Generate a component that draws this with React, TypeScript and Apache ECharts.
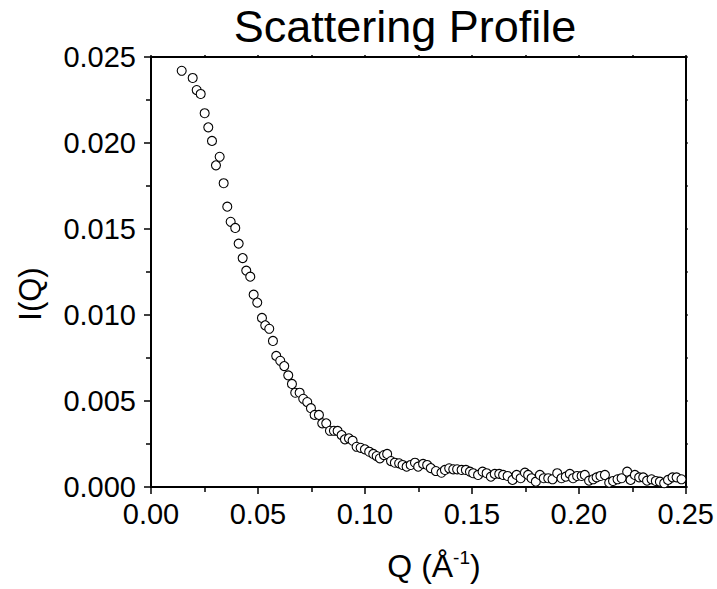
import React, { useEffect, useRef } from "react";
import * as echarts from "echarts";

const qValues = [
  0.01435, 0.01949, 0.02136, 0.02323, 0.02509, 0.02678, 0.02851, 0.03037, 0.0321, 0.03397,
  0.03566, 0.03724, 0.03939, 0.04098, 0.04285, 0.04453, 0.0464, 0.04799, 0.04967, 0.05187,
  0.05341, 0.05528, 0.05701, 0.05855, 0.06042, 0.06229, 0.06416, 0.06589, 0.06743, 0.06949,
  0.07117, 0.07304, 0.07477, 0.0765, 0.07851, 0.08005, 0.08192, 0.08365, 0.08551, 0.08724,
  0.08911, 0.09066, 0.09252, 0.09425, 0.09612, 0.09799, 0.1, 0.102, 0.1039, 0.1055,
  0.107, 0.1089, 0.1104, 0.1122, 0.114, 0.116, 0.1176, 0.1195, 0.1214, 0.1234,
  0.1249, 0.1272, 0.1291, 0.1308, 0.1332, 0.1358, 0.1374, 0.1394, 0.1413, 0.1431,
  0.1452, 0.1472, 0.1491, 0.1506, 0.1529, 0.155, 0.1569, 0.1589, 0.1607, 0.1628,
  0.1646, 0.1667, 0.169, 0.1709, 0.1728, 0.1748, 0.1763, 0.1779, 0.1799, 0.1818,
  0.1836, 0.1857, 0.1877, 0.1899, 0.1919, 0.1939, 0.1958, 0.1973, 0.1992, 0.2013,
  0.2028, 0.2048, 0.2067, 0.2083, 0.2101, 0.2122, 0.2142, 0.216, 0.2181, 0.22,
  0.2226, 0.2242, 0.2262, 0.2282, 0.2301, 0.2319, 0.234, 0.236, 0.2379, 0.2399,
  0.2417, 0.2438, 0.2457, 0.248,
];

const iqValues = [
  0.0242, 0.02378, 0.02308, 0.02285, 0.02173, 0.02091, 0.02012, 0.0187, 0.0192, 0.01766,
  0.0163, 0.01542, 0.01506, 0.01415, 0.01331, 0.01258, 0.01223, 0.01118, 0.01072, 0.00983,
  0.0094, 0.0092, 0.00849, 0.00762, 0.00734, 0.00703, 0.00649, 0.00599, 0.00548, 0.00548,
  0.00513, 0.00494, 0.00458, 0.00419, 0.00419, 0.0037, 0.0037, 0.00327, 0.00327, 0.00326,
  0.00302, 0.00277, 0.00283, 0.00269, 0.00234, 0.00228, 0.00219, 0.00205, 0.00192, 0.0018,
  0.00167, 0.00186, 0.00192, 0.00151, 0.00141, 0.00138, 0.00128, 0.00118, 0.00128, 0.00141,
  0.00118, 0.00134, 0.00128, 0.0011, 0.00093, 0.00083, 0.00099, 0.00109, 0.00103, 0.00103,
  0.00099, 0.00099, 0.00089, 0.0008, 0.0007, 0.00089, 0.0008, 0.0006, 0.00076, 0.00076,
  0.0007, 0.00064, 0.00041, 0.0007, 0.00051, 0.00083, 0.0007, 0.00051, 0.00031, 0.0007,
  0.00051, 0.00051, 0.00045, 0.0008, 0.00051, 0.0006, 0.00076, 0.00051, 0.00064, 0.00064,
  0.0007, 0.00037, 0.00045, 0.00056, 0.00064, 0.0007, 0.00025, 0.00035, 0.00045, 0.00051,
  0.00089, 0.00041, 0.0007, 0.00056, 0.00056, 0.00037, 0.00045, 0.00035, 0.00031, 0.00022,
  0.00041, 0.00056, 0.00056, 0.00045,
];

const xTickLabels = ["0.00", "0.05", "0.10", "0.15", "0.20", "0.25"];
const yTickLabels = ["0.000", "0.005", "0.010", "0.015", "0.020", "0.025"];
const titleText = "Scattering Profile";
const yAxisName = "I(Q)";

export default function App() {
  const ref = useRef<HTMLDivElement>(null);
  useEffect(() => {
    if (!ref.current) return;
    const chart = echarts.init(ref.current, null, { renderer: "svg" });
    const font = "Liberation Sans, Arial, sans-serif";
    const axisCommon = (main: boolean) => ({
      axisLine: { show: true, onZero: false, lineStyle: { color: "#000", width: 2 } },
      axisTick: { show: true, inside: false, length: main ? 7 : 2, lineStyle: { color: "#000", width: 1.5 } },
      minorTick: { show: true, splitNumber: 2, length: main ? 5 : 2, lineStyle: { color: "#000", width: 1.5 } },
      splitLine: { show: false },
      minorSplitLine: { show: false },
    });
    const data = qValues.map((q, i) => [q, iqValues[i]]);
    chart.setOption({
      animation: false,
      backgroundColor: "#fff",
      grid: { left: 151, right: 31, top: 57, bottom: 102 },
      xAxis: [
        {
          type: "value",
          position: "bottom",
          min: 0,
          max: 0.25,
          interval: 0.05,
          ...axisCommon(true),
          axisLabel: {
            show: true,
            margin: 12,
            color: "#000",
            fontSize: 29,
            fontFamily: font,
            formatter: (v: number) => xTickLabels[Math.round(v / 0.05)] ?? "",
          },
        },
        {
          type: "value",
          position: "top",
          min: 0,
          max: 0.25,
          interval: 0.05,
          ...axisCommon(false),
          axisLabel: { show: false },
        },
      ],
      yAxis: [
        {
          type: "value",
          position: "left",
          min: 0,
          max: 0.025,
          interval: 0.005,
          ...axisCommon(true),
          axisLabel: {
            show: true,
            margin: 15,
            color: "#000",
            fontSize: 29,
            fontFamily: font,
            formatter: (v: number) => yTickLabels[Math.round(v / 0.005)] ?? "",
          },
        },
        {
          type: "value",
          position: "right",
          min: 0,
          max: 0.025,
          interval: 0.005,
          ...axisCommon(false),
          axisLabel: { show: false },
        },
      ],
      graphic: [
        {
          type: "text",
          x: 405,
          y: 26,
          style: {
            text: titleText,
            font: `45px ${font}`,
            fill: "#000",
            align: "center",
            verticalAlign: "middle",
          },
        },
        {
          type: "text",
          x: 30,
          y: 294,
          rotation: Math.PI / 2,
          style: {
            text: yAxisName,
            font: `31px ${font}`,
            fill: "#000",
            align: "center",
            verticalAlign: "middle",
          },
        },
        {
          type: "text",
          x: 434,
          y: 566,
          style: {
            text: "{a|Q (Å}{b|-1}{a|)}",
            align: "center",
            verticalAlign: "middle",
            fill: "#000",
            rich: {
              a: { fontSize: 32, fontFamily: font, fill: "#000", color: "#000" },
              b: { fontSize: 19, fontFamily: font, fill: "#000", color: "#000", padding: [0, 0, 17, 0] },
            },
          },
        },
      ],
      series: [
        {
          type: "scatter",
          xAxisIndex: 0,
          yAxisIndex: 0,
          data,
          symbol: "circle",
          symbolSize: 9,
          clip: false,
          itemStyle: { color: "#fff", borderColor: "#000", borderWidth: 1.1, opacity: 1 },
        },
      ],
    });
    return () => chart.dispose();
  }, []);
  return (
    <div
      ref={ref}
      style={{ position: "fixed", left: 0, top: 0, width: 717, height: 589 }}
    />
  );
}
